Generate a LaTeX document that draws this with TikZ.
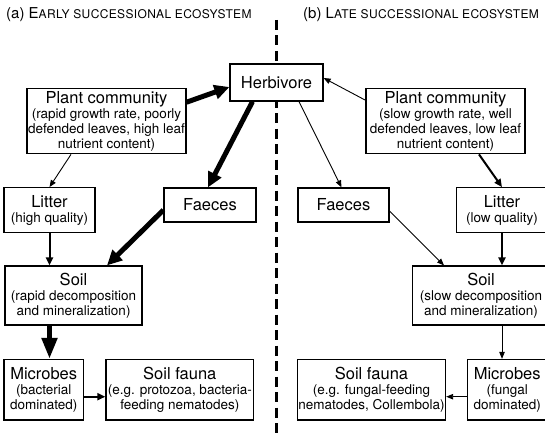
\documentclass[tikz,border=0pt]{standalone}
\usepackage{fontspec}
\setmainfont{TeX Gyre Heros}
\usetikzlibrary{arrows.meta}

\newcommand{\bigtxt}{\fontsize{16.5}{19}\selectfont}
\newcommand{\smalltxt}{\fontsize{13.5}{15}\selectfont}
\newcommand{\headtxt}{\fontsize{15}{18}\selectfont}
\newcommand{\headsc}[1]{{\fontsize{12}{14}\selectfont\addfontfeature{LetterSpace=3}#1}}

\begin{document}
\begin{tikzpicture}[x=1pt, y=-1pt,
        box/.style={draw, line width=1.2pt, fill=white, align=center, inner sep=1pt, font=\smalltxt},
        thinarrow/.style={line width=0.9pt, -{Triangle[length=7pt,width=5.5pt]}},
        midarrow/.style={line width=2pt, -{Triangle[length=8pt,width=7pt]}},
        thickarrow/.style={line width=5pt, -{Triangle[length=15pt,width=14pt]}},
        divider/.style={line width=2.2pt, dash pattern=on 10pt off 5.5pt}]
    \path[use as bounding box, clip] (0,0) rectangle (545,433);

    % dividing line between the two panels
    \coordinate (divtop) at (276.5,20);
    \coordinate (divbot) at (276.5,433);
    \draw[divider] (divtop) -- (divbot);

    \draw node[anchor=base west, inner sep=0] (titleA) at (6,19) {\headtxt (a) E\headsc{ARLY SUCCESSIONAL ECOSYSTEM}};
    \draw node[anchor=base west, inner sep=0] (titleB) at (303,19) {\headtxt (b) L\headsc{ATE SUCCESSIONAL ECOSYSTEM}};

    \draw node[box, font=\bigtxt, minimum width=93pt, minimum height=37pt] (herb) at (276.5,82.5) {Herbivore};

    % (a) early successional
    \begin{scope}
        \draw node[box, minimum width=159pt, minimum height=65pt] (plantA) at (106.5,121.3) {{\bigtxt Plant community}\\(rapid growth rate, poorly\\defended leaves, high leaf\\nutrient content)};
        \draw node[box, minimum width=91pt, minimum height=45pt] (litterA) at (49.5,210.2) {{\bigtxt Litter}\\(high quality)};
        \draw node[box, font=\bigtxt, minimum width=92pt, minimum height=34pt] (faecesA) at (210,205) {Faeces};
        \draw node[box, minimum width=137pt, minimum height=59pt] (soilA) at (73.5,295.5) {{\bigtxt Soil}\\(rapid decomposition\\and mineralization)};
        \draw node[box, minimum width=79.4pt, minimum height=60.5pt] (microbesA) at (43.7,389.7) {{\bigtxt Microbes}\\(bacterial\\dominated)};
        \draw node[box, minimum width=147.7pt, minimum height=60.5pt] (faunaA) at (179.8,389.7) {{\bigtxt Soil fauna}\\(e.g. protozoa, bacteria-\\feeding nematodes)};

        \draw[thickarrow] ([yshift=-14pt]plantA.north east) to ([yshift=-4.5pt]herb.west);
        \draw[thickarrow] ([xshift=-24pt]herb.south) to ([xshift=-2pt]faecesA.north);
        \draw[thinarrow] ([xshift=-35.5pt]plantA.south) to (litterA.north);
        \draw[midarrow] (litterA.south) to (litterA.south |- soilA.north);
        \draw[thickarrow] ([yshift=-5pt]faecesA.west) to ([xshift=33.5pt]soilA.north);
        \draw[thickarrow, -{Triangle[length=21pt,width=15pt]}] (soilA.south -| litterA) to (microbesA.north -| litterA);
        \draw[midarrow] ([yshift=-7pt]microbesA.east) to ([yshift=-7pt]faunaA.west);
    \end{scope}

    % (b) late successional
    \begin{scope}
        \draw node[box, minimum width=159pt, minimum height=65pt] (plantB) at (445.5,121.3) {{\bigtxt Plant community}\\(slow growth rate, well\\defended leaves, low leaf\\nutrient content)};
        \draw node[box, font=\bigtxt, minimum width=91pt, minimum height=34pt] (faecesB) at (343.5,205) {Faeces};
        \draw node[box, minimum width=91pt, minimum height=45pt] (litterB) at (502,210.2) {{\bigtxt Litter}\\(low quality)};
        \draw node[box, minimum width=137pt, minimum height=59pt] (soilB) at (481,295.5) {{\bigtxt Soil}\\(slow decomposition\\and mineralization)};
        \draw node[box, minimum width=147pt, minimum height=60.5pt] (faunaB) at (371.5,389.7) {{\bigtxt Soil fauna}\\(e.g. fungal-feeding\\nematodes, Collembola)};
        \draw node[box, minimum width=79.5pt, minimum height=60.5pt] (microbesB) at (507.2,389.7) {{\bigtxt Microbes}\\(fungal\\dominated)};

        \draw[thinarrow] ([yshift=-12pt]plantB.north west) to ([yshift=4.5pt]herb.east);
        \draw[thinarrow] ([xshift=22.5pt]herb.south) to ([xshift=-2pt]faecesB.north);
        \draw[midarrow] ([xshift=33.5pt]plantB.south) to (litterB.north);
        \draw[thinarrow] ([yshift=-6pt]faecesB.east) to ([xshift=-37pt]soilB.north);
        \draw[midarrow] (litterB.south) to (litterB.south |- soilB.north);
        \draw[thinarrow] (soilB.south -| litterB) to (microbesB.north -| litterB);
        \draw[thinarrow] ([yshift=-7pt]microbesB.west) to ([yshift=-7pt]faunaB.east);
    \end{scope}
\end{tikzpicture}
\end{document}
